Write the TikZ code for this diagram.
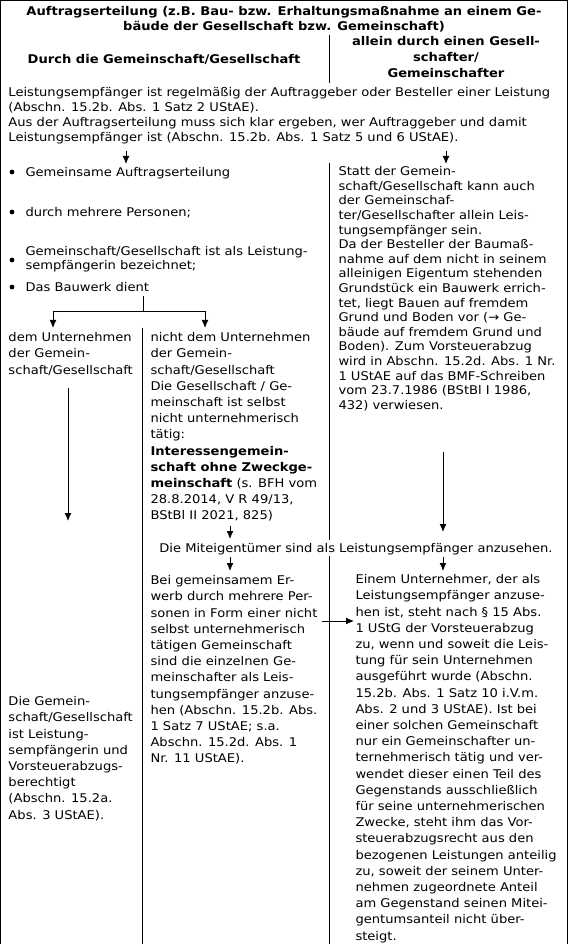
\documentclass[tikz,border=0pt]{standalone}
\usepackage{fontspec}
\setmainfont{DejaVu Sans}[FakeStretch=1.09]
\usetikzlibrary{arrows.meta}

\begin{document}
\begin{tikzpicture}[x=0.75pt,y=-0.75pt,line width=0.75pt,
    txt/.style={anchor=north west,inner sep=0pt,align=left,font=\fontsize{9}{12.15}\selectfont,
      execute at begin node={\rule{0pt}{9pt}}},
    hd/.style={anchor=north,inner sep=0pt,align=center,font=\fontsize{9}{12}\selectfont\bfseries,
      execute at begin node={\rule{0pt}{9pt}}},
    arr/.style={-{Latex[length=6pt,width=5.2pt]}},
    dot/.style={circle,fill,inner sep=0pt,minimum size=3.6pt}]
  \useasboundingbox (0,0) rectangle (568,944);
  % frame and column lines
  \draw (0.5,944) -- (0.5,0.5) -- (567.5,0.5) -- (567.5,944);
  \draw (329,35) -- (329,83);
  \draw (329,163) -- (329,540);
  \draw (329,556) -- (329,944);
  \draw (142,328) -- (142,944);
  % headings
  \node[hd,font=\fontsize{9}{11.25}\selectfont\bfseries] (title) at (284,6) {Auftragserteilung (z.B. Bau- bzw. Erhaltungsmaßnahme an einem Ge-\\bäude der Gesellschaft bzw. Gemeinschaft)};
  \node[hd] (headGem) at (164,51) {Durch die Gemeinschaft/Gesellschaft};
  \node[hd] (headAllein) at (446,36) {allein durch einen Gesell-\\schafter/\\Gemeinschafter};
  \node[txt,font=\fontsize{9}{11.25}\selectfont] (intro) at (8,87) {Leistungsempfänger ist regelmäßig der Auftraggeber oder Besteller einer Leistung\\(Abschn. 15.2b. Abs. 1 Satz 2 UStAE).\\Aus der Auftragserteilung muss sich klar ergeben, wer Auftraggeber und damit\\Leistungsempfänger ist (Abschn. 15.2b. Abs. 1 Satz 5 und 6 UStAE).};
  % left branch: bullets
  \node[dot] (d1) at (12,172) {};
  \node[dot] (d2) at (12,212) {};
  \node[dot] (d3) at (12,260) {};
  \node[dot] (d4) at (12,287) {};
  \node[txt] (b1) at (25,164) {Gemeinsame Auftragserteilung};
  \node[txt] (b2) at (25,204) {durch mehrere Personen;};
  \node[txt,font=\fontsize{9}{10.5}\selectfont] (b3) at (25,246) {Gemeinschaft/Gesellschaft ist als Leistung-\\sempfängerin bezeichnet;};
  \node[txt] (b4) at (25,279) {Das Bauwerk dient};
  % right branch
  \node[txt,font=\fontsize{9}{10.95}\selectfont] (rTop) at (338,166) {Statt der Gemein-\\schaft/Gesellschaft kann auch\\der Gemeinschaf-\\ter/Gesellschafter allein Leis-\\tungsempfänger sein.\\Da der Besteller der Baumaß-\\nahme auf dem nicht in seinem\\alleinigen Eigentum stehenden\\Grundstück ein Bauwerk errich-\\tet, liegt Bauen auf fremdem\\Grund und Boden vor (→ Ge-\\bäude auf fremdem Grund und\\Boden). Zum Vorsteuerabzug\\wird in Abschn. 15.2d. Abs. 1 Nr.\\1 UStAE auf das BMF-Schreiben\\vom 23.7.1986 (BStBl I 1986,\\432) verwiesen.};
  % Bauwerk dient ...
  \node[txt] (lTop) at (8,332) {dem Unternehmen\\der Gemein-\\schaft/Gesellschaft};
  \node[txt] (mTop) at (150,332) {nicht dem Unternehmen\\der Gemein-\\schaft/Gesellschaft\\Die Gesellschaft / Ge-\\meinschaft ist selbst\\nicht unternehmerisch\\tätig:\\\textbf{Interessengemein-}\\\textbf{schaft ohne Zweckge-}\\\textbf{meinschaft} (s. BFH vom\\28.8.2014, V R 49/13,\\BStBl II 2021, 825)};
  \node[txt,anchor=north] (mit) at (356,540) {Die Miteigentümer sind als Leistungsempfänger anzusehen.};
  \node[txt] (mBot) at (150,575) {Bei gemeinsamem Er-\\werb durch mehrere Per-\\sonen in Form einer nicht\\selbst unternehmerisch\\tätigen Gemeinschaft\\sind die einzelnen Ge-\\meinschafter als Leis-\\tungsempfänger anzuse-\\hen (Abschn. 15.2b. Abs.\\1 Satz 7 UStAE; s.a.\\Abschn. 15.2d. Abs. 1\\Nr. 11 UStAE).};
  \node[txt] (rBot) at (355,574) {Einem Unternehmer, der als\\Leistungsempfänger anzuse-\\hen ist, steht nach § 15 Abs.\\1 UStG der Vorsteuerabzug\\zu, wenn und soweit die Leis-\\tung für sein Unternehmen\\ausgeführt wurde (Abschn.\\15.2b. Abs. 1 Satz 10 i.V.m.\\Abs. 2 und 3 UStAE). Ist bei\\einer solchen Gemeinschaft\\nur ein Gemeinschafter un-\\ternehmerisch tätig und ver-\\wendet dieser einen Teil des\\Gegenstands ausschließlich\\für seine unternehmerischen\\Zwecke, steht ihm das Vor-\\steuerabzugsrecht aus den\\bezogenen Leistungen anteilig\\zu, soweit der seinem Unter-\\nehmen zugeordnete Anteil\\am Gegenstand seinen Mitei-\\gentumsanteil nicht über-\\steigt.};
  \node[txt] (lBot) at (8,696) {Die Gemein-\\schaft/Gesellschaft\\ist Leistung-\\sempfängerin und\\Vorsteuerabzugs-\\berechtigt\\(Abschn. 15.2a.\\Abs. 3 UStAE).};
  % arrows
  \coordinate (f1) at (126,151);
  \coordinate (f2) at (446,151);
  \coordinate (br) at (143,296);
  \coordinate (bj) at (143,312);
  \coordinate (l1) at (68,388);
  \coordinate (l2) at (68,521);
  \coordinate (m1) at (230,526);
  \coordinate (m2) at (230,557);
  \coordinate (r1) at (443,452);
  \coordinate (r2) at (443,557);
  \coordinate (x1) at (322,621);
  \draw[arr] (f1) -- ++(0,13);
  \draw[arr] (f2) -- ++(0,13);
  \draw (br) -- (bj);
  \draw[arr] (bj) -| (53,328);
  \draw[arr] (bj) -| (205,328);
  \draw[arr] (l1) -- (l2);
  \draw[arr] (m1) -- ++(0,13);
  \draw[arr] (r1) -- ++(0,80);
  \draw[arr] (m2) -- ++(0,14);
  \draw[arr] (r2) -- ++(0,14);
  \draw[arr] (x1) -- ++(32,0);
\end{tikzpicture}
\end{document}
